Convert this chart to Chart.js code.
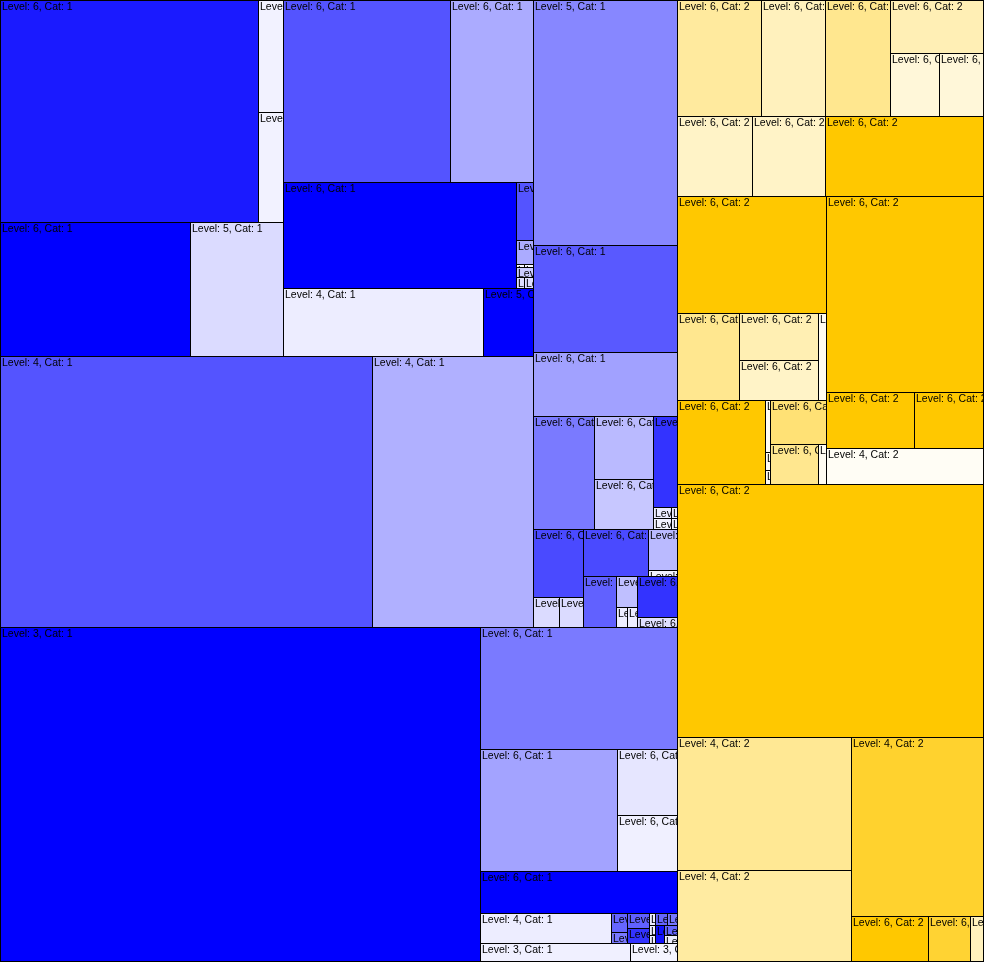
<!DOCTYPE html>
<html><head><meta charset="utf-8">
<script src="https://cdn.jsdelivr.net/npm/chart.js@4.4.0/dist/chart.umd.min.js"></script>
<style>html,body{margin:0;padding:0;background:#fff;} canvas{display:block;}</style>
</head><body>
<canvas id="c" width="984" height="962"></canvas>
<script>
// Leaf values (area-weight of each tile)
const leafValues = [
  57276, 2800, 2750, 25460, 12462, 30394, 15106, 24698, 986, 408,
  24, 27, 170, 88, 99, 13600, 3400, 100812, 43631, 35280,
  15408, 9216, 6893, 3717, 2950, 2184, 198, 198, 66, 66,
  3400, 780, 720, 3055, 1189, 174, 1683, 651, 220, 200,
  1640, 400, 160800, 24034, 16714, 3960, 3360, 8274, 3930, 304,
  176, 330, 330, 72, 60, 48, 144, 120, 162, 130,
  104, 2850, 893, 9744, 7424, 6000, 5840, 7540, 4982, 3087,
  2835, 12720, 17433, 5394, 3713, 3160, 696, 7392, 260, 90,
  70, 2464, 1920, 320, 30968, 4928, 3920, 5688, 77671, 23142,
  16008, 23807, 3542, 1932, 644
];
// Depth level of each leaf
const leafLevels = [
  6,6,6,6,5,6,6,6,6,6,
  6,6,6,6,6,4,5,4,4,5,
  6,6,6,6,6,6,6,6,6,6,
  6,6,6,6,6,6,6,6,6,6,
  6,6,3,6,6,6,6,6,4,6,
  6,6,6,6,6,6,6,6,6,6,
  6,3,3,6,6,6,6,6,6,6,
  6,6,6,6,6,6,6,6,6,6,
  6,6,6,6,6,6,6,4,6,4,
  4,4,6,6,6
];
// Category of each leaf
const leafCats = [
  1,1,1,1,1,1,1,1,1,1,
  1,1,1,1,1,1,1,1,1,1,
  1,1,1,1,1,1,1,1,1,1,
  1,1,1,1,1,1,1,1,1,1,
  1,1,1,1,1,1,1,1,1,1,
  1,1,1,1,1,1,1,1,1,1,
  1,1,1,2,2,2,2,2,2,2,
  2,2,2,2,2,2,2,2,2,2,
  2,2,2,2,2,2,2,2,2,2,
  2,2,2,2,2
];
// Colour value (0..1) of each leaf
const leafShades = [
  0.90,0.05,0.05,1,0.14,0.67,0.33,1,0.67,0.33,
  0.03,0.03,0.2,0.13,0.13,0.07,1,0.67,0.31,0.47,
  0.65,0.37,0.52,0.27,0.22,0.8,0.07,0.05,0.07,0.05,
  0.71,0.14,0.14,0.71,0.27,0.05,0.62,0.25,0.07,0.07,
  0.8,0.12,1,0.52,0.36,0.1,0.06,1,0.07,0.6,
  0.53,0.62,0.8,0.07,0.07,0.07,0.6,0.53,0.93,0.6,
  0.07,0.06,0.04,0.38,0.26,0.22,0.22,0.44,0.29,0.15,
  0.15,1,1,0.44,0.3,0.22,0.05,1,0.05,0.05,
  0.05,0.54,0.44,0.05,1,1,1,0.04,1,0.42,
  0.37,0.82,1,0.8,0.26
];
// Grouping of leaves (nested)
const groupTree = [
  [
    [
      [
        [
          [[0,[1,2]],[3,4]],
          [[5,6],[7,[8,9,[10,11],12,[13,14]]],[15,16]]
        ],
        [17,18]
      ],
      [19,20,21,
        [22,[23,24],[25,[[26,27],[28,29]]]],
        [[30,[31,32]],[[33,[34,35]],[36,[37,[38,39]],[40,41]]]]
      ]
    ],
    [42,[43,[44,[45,46]],47,[48,[49,50],[51,52],[53,54,55],[[56,57],[58,[59,60]]]],[61,62]]]
  ],
  [
    [
      [[[63,64],[65,66]],[[67,[68,[69,70]]],71]],
      [[72,[73,[74,75],76],[77,[78,79,80],[81,[82,83]]]],[84,[85,86],87]]
    ],
    88,
    [[89,90],[91,[92,93,94]]]
  ]
];
const categoryBase = {1: [0, 0, 255], 2: [255, 200, 0]};

function leafColor(i) {
  const b = categoryBase[leafCats[i]], s = leafShades[i];
  const c = b.map(v => Math.round(255 + (v - 255) * s));
  return `rgb(${c[0]},${c[1]},${c[2]})`;
}
function nodeValue(n) {
  return typeof n === 'number' ? leafValues[n] : n.reduce((a, c) => a + nodeValue(c), 0);
}
function layoutNode(node, x0, y0, x1, y1, W, H, out) {
  if (typeof node === 'number') { out.push({i: node, x0, y0, x1, y1}); return; }
  const total = nodeValue(node);
  const horiz = (x1 - x0) * W >= (y1 - y0) * H;
  let pos = horiz ? x0 : y0;
  const span = horiz ? (x1 - x0) : (y1 - y0);
  node.forEach(child => {
    const d = span * nodeValue(child) / total;
    if (horiz) layoutNode(child, pos, y0, pos + d, y1, W, H, out);
    else layoutNode(child, x0, pos, x1, pos + d, W, H, out);
    pos += d;
  });
}

const treemapPlugin = {
  id: 'treemapTiles',
  afterDatasetsDraw(chart) {
    const xs = chart.scales.x, ys = chart.scales.y, ctx = chart.ctx;
    const area = chart.chartArea;
    const W = Math.abs(xs.getPixelForValue(1) - xs.getPixelForValue(0));
    const H = Math.abs(ys.getPixelForValue(1) - ys.getPixelForValue(0));
    const tiles = [];
    layoutNode(groupTree, 0, 0, 1, 1, W, H, tiles);
    const px = t => ({
      x0: Math.round(xs.getPixelForValue(t.x0)), x1: Math.round(xs.getPixelForValue(t.x1)),
      y0: Math.round(ys.getPixelForValue(t.y0)), y1: Math.round(ys.getPixelForValue(t.y1))
    });
    ctx.save();
    ctx.font = '10.5px "Liberation Sans", Arial, sans-serif';
    ctx.textBaseline = 'top';
    ctx.lineWidth = 1;
    tiles.forEach(t => {
      const p = px(t), w = p.x1 - p.x0, h = p.y1 - p.y0;
      ctx.fillStyle = leafColor(t.i);
      ctx.fillRect(p.x0, p.y0, w, h);
      ctx.save();
      ctx.beginPath();
      ctx.rect(p.x0 + 1, p.y0 + 1, w - 1, h - 1);
      ctx.clip();
      ctx.fillStyle = '#000';
      ctx.fillText(`Level: ${leafLevels[t.i]}, Cat: ${leafCats[t.i]}`, p.x0 + 2, p.y0 + 2);
      ctx.restore();
    });
    ctx.strokeStyle = '#000';
    const maxX = Math.round(area.right) - 1, maxY = Math.round(area.bottom) - 1;
    tiles.forEach(t => {
      const p = px(t);
      const x1 = Math.min(p.x1, maxX), y1 = Math.min(p.y1, maxY);
      ctx.strokeRect(p.x0 + 0.5, p.y0 + 0.5, x1 - p.x0, y1 - p.y0);
    });
    ctx.restore();
  }
};

new Chart(document.getElementById('c'), {
  type: 'scatter',
  data: { datasets: [{ data: [] }] },
  options: {
    responsive: false,
    animation: false,
    devicePixelRatio: 1,
    layout: { padding: 0 },
    plugins: { legend: { display: false }, tooltip: { enabled: false } },
    scales: {
      x: { type: 'linear', min: 0, max: 1, display: false },
      y: { type: 'linear', min: 0, max: 1, reverse: true, display: false }
    }
  },
  plugins: [treemapPlugin]
});
</script>
</body></html>
